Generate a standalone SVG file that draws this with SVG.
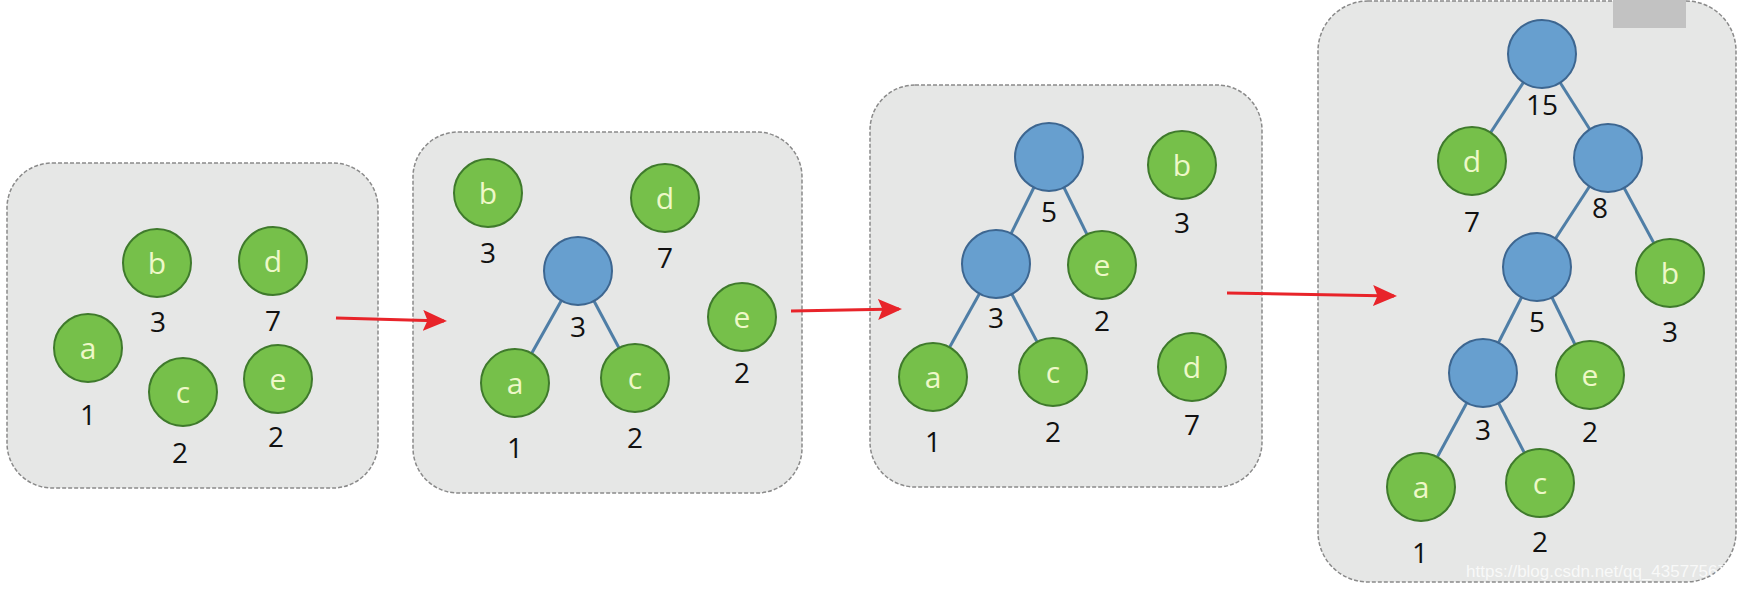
<svg xmlns="http://www.w3.org/2000/svg" width="1737" height="592" viewBox="0 0 1737 592">
<defs>
<style>
.box{fill:#e6e7e6;stroke:#8a8a8a;stroke-width:1.5;stroke-dasharray:4 2}
.g{fill:#76c04a;stroke:#3f7a2c;stroke-width:2}
.bl{fill:#679fcf;stroke:#3d6690;stroke-width:2}
.lt{font-family:"Open Sans","Liberation Sans",sans-serif;font-size:30px;fill:#eef8c8;text-anchor:middle}
.num{font-family:"Open Sans","Liberation Sans",sans-serif;font-size:28px;fill:#111;text-anchor:middle}
.edge{stroke:#4f7ea6;stroke-width:3;fill:none}
.arr{stroke:#e8242a;stroke-width:3;fill:none}
</style>
<marker id="ah" markerWidth="8" markerHeight="7" refX="7" refY="3.5" orient="auto" markerUnits="strokeWidth">
<path d="M0,0 L8,3.5 L0,7 L1.5,3.5 Z" fill="#e8242a"/>
</marker>
</defs>
<rect width="1737" height="592" fill="#fff"/>

<g id="frames">
<rect class="box" x="7" y="163" width="371" height="325" rx="45"/>
<rect class="box" x="413" y="132" width="389" height="361" rx="45"/>
<rect class="box" x="870" y="85" width="392" height="402" rx="45"/>
<rect class="box" x="1318" y="1" width="418" height="581" rx="50"/>
</g>

<g id="connectors">
<line class="edge" x1="578" y1="271" x2="515" y2="383"/>
<line class="edge" x1="578" y1="271" x2="635" y2="378"/>
<line class="edge" x1="1049" y1="157" x2="996" y2="264"/>
<line class="edge" x1="1049" y1="157" x2="1102" y2="265"/>
<line class="edge" x1="996" y1="264" x2="933" y2="377"/>
<line class="edge" x1="996" y1="264" x2="1053" y2="372"/>
<line class="edge" x1="1542" y1="54" x2="1472" y2="161"/>
<line class="edge" x1="1542" y1="54" x2="1608" y2="158"/>
<line class="edge" x1="1608" y1="158" x2="1537" y2="267"/>
<line class="edge" x1="1608" y1="158" x2="1670" y2="273"/>
<line class="edge" x1="1537" y1="267" x2="1483" y2="373"/>
<line class="edge" x1="1537" y1="267" x2="1590" y2="375"/>
<line class="edge" x1="1483" y1="373" x2="1421" y2="487"/>
<line class="edge" x1="1483" y1="373" x2="1540" y2="483"/>
<line class="arr" x1="336" y1="318" x2="444" y2="321" marker-end="url(#ah)"/>
<line class="arr" x1="791" y1="311" x2="899" y2="309" marker-end="url(#ah)"/>
<line class="arr" x1="1227" y1="293" x2="1394" y2="296" marker-end="url(#ah)"/>
</g>

<!-- Stage 1 -->
<g id="s1-b"><circle class="g" cx="157" cy="263" r="34"/><text class="lt" x="157" y="274">b</text><text class="num" x="158" y="332">3</text></g>
<g id="s1-d"><circle class="g" cx="273" cy="261" r="34"/><text class="lt" x="273" y="272">d</text><text class="num" x="273" y="331">7</text></g>
<g id="s1-a"><circle class="g" cx="88" cy="348" r="34"/><text class="lt" x="88" y="359">a</text><text class="num" x="88" y="425">1</text></g>
<g id="s1-c"><circle class="g" cx="183" cy="392" r="34"/><text class="lt" x="183" y="403">c</text><text class="num" x="180" y="463">2</text></g>
<g id="s1-e"><circle class="g" cx="278" cy="379" r="34"/><text class="lt" x="278" y="390">e</text><text class="num" x="276" y="447">2</text></g>

<!-- Stage 2 -->
<g id="s2-b"><circle class="g" cx="488" cy="193" r="34"/><text class="lt" x="488" y="204">b</text><text class="num" x="488" y="263">3</text></g>
<g id="s2-d"><circle class="g" cx="665" cy="198" r="34"/><text class="lt" x="665" y="209">d</text><text class="num" x="665" y="268">7</text></g>
<g id="s2-n3"><circle class="bl" cx="578" cy="271" r="34"/><text class="num" x="578" y="337">3</text></g>
<g id="s2-a"><circle class="g" cx="515" cy="383" r="34"/><text class="lt" x="515" y="394">a</text><text class="num" x="515" y="458">1</text></g>
<g id="s2-c"><circle class="g" cx="635" cy="378" r="34"/><text class="lt" x="635" y="389">c</text><text class="num" x="635" y="448">2</text></g>
<g id="s2-e"><circle class="g" cx="742" cy="317" r="34"/><text class="lt" x="742" y="328">e</text><text class="num" x="742" y="383">2</text></g>

<!-- Stage 3 -->
<g id="s3-n5"><circle class="bl" cx="1049" cy="157" r="34"/><text class="num" x="1049" y="222">5</text></g>
<g id="s3-b"><circle class="g" cx="1182" cy="165" r="34"/><text class="lt" x="1182" y="176">b</text><text class="num" x="1182" y="233">3</text></g>
<g id="s3-n3"><circle class="bl" cx="996" cy="264" r="34"/><text class="num" x="996" y="328">3</text></g>
<g id="s3-e"><circle class="g" cx="1102" cy="265" r="34"/><text class="lt" x="1102" y="276">e</text><text class="num" x="1102" y="331">2</text></g>
<g id="s3-a"><circle class="g" cx="933" cy="377" r="34"/><text class="lt" x="933" y="388">a</text><text class="num" x="933" y="452">1</text></g>
<g id="s3-c"><circle class="g" cx="1053" cy="372" r="34"/><text class="lt" x="1053" y="383">c</text><text class="num" x="1053" y="442">2</text></g>
<g id="s3-d"><circle class="g" cx="1192" cy="367" r="34"/><text class="lt" x="1192" y="378">d</text><text class="num" x="1192" y="435">7</text></g>

<!-- Stage 4 -->
<g id="s4-n15"><circle class="bl" cx="1542" cy="54" r="34"/><text class="num" x="1542" y="115">15</text></g>
<g id="s4-d"><circle class="g" cx="1472" cy="161" r="34"/><text class="lt" x="1472" y="172">d</text><text class="num" x="1472" y="232">7</text></g>
<g id="s4-n8"><circle class="bl" cx="1608" cy="158" r="34"/><text class="num" x="1600" y="218">8</text></g>
<g id="s4-n5"><circle class="bl" cx="1537" cy="267" r="34"/><text class="num" x="1537" y="332">5</text></g>
<g id="s4-b"><circle class="g" cx="1670" cy="273" r="34"/><text class="lt" x="1670" y="284">b</text><text class="num" x="1670" y="342">3</text></g>
<g id="s4-n3"><circle class="bl" cx="1483" cy="373" r="34"/><text class="num" x="1483" y="440">3</text></g>
<g id="s4-e"><circle class="g" cx="1590" cy="375" r="34"/><text class="lt" x="1590" y="386">e</text><text class="num" x="1590" y="442">2</text></g>
<g id="s4-a"><circle class="g" cx="1421" cy="487" r="34"/><text class="lt" x="1421" y="498">a</text><text class="num" x="1420" y="563">1</text></g>
<g id="s4-c"><circle class="g" cx="1540" cy="483" r="34"/><text class="lt" x="1540" y="494">c</text><text class="num" x="1540" y="552">2</text></g>

<rect x="1613" y="0" width="73" height="28" fill="#c2c2c2"/>
<text x="1727" y="577" text-anchor="end" font-family="Liberation Sans,Arial,sans-serif" font-size="17" fill="#ffffff" fill-opacity="0.75">https://blog.csdn.net/qq_43577567</text>
</svg>
